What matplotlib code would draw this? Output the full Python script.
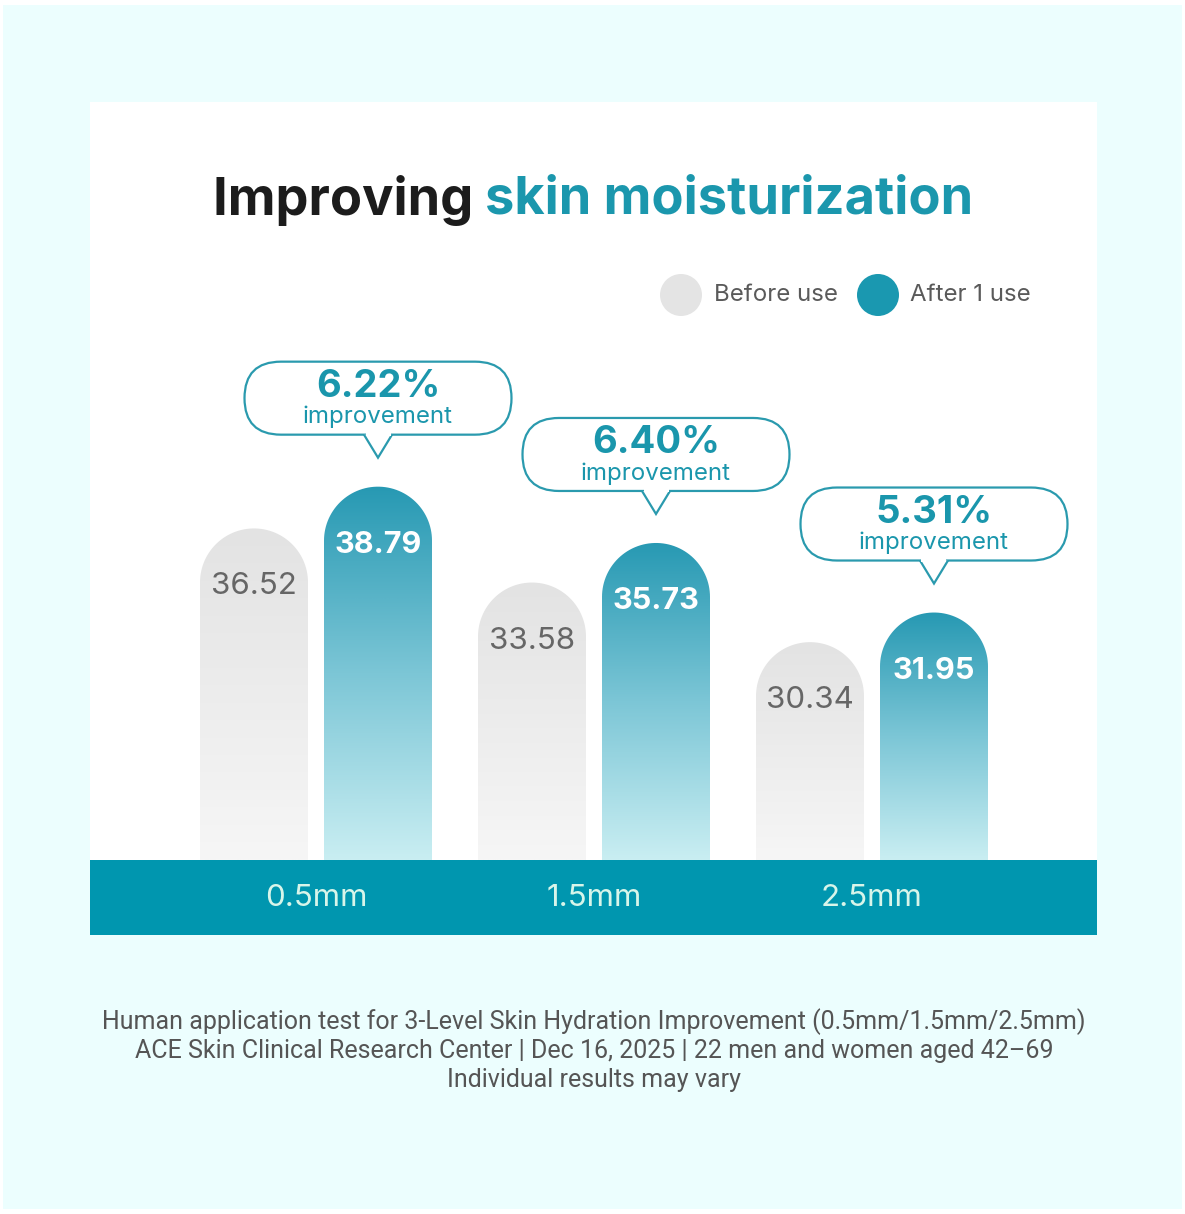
import numpy as np
import matplotlib
matplotlib.use("Agg")
import matplotlib.pyplot as plt
from matplotlib.patches import Rectangle, PathPatch, FancyBboxPatch, Circle, Polygon
from matplotlib.path import Path
from matplotlib.colors import LinearSegmentedColormap

# data
depths = ["0.5mm", "1.5mm", "2.5mm"]
before = [36.52, 33.58, 30.34]
after = [38.79, 35.73, 31.95]
improve = ["6.22%", "6.40%", "5.31%"]
series = ["Before use", "After 1 use"]
notes = ["Human application test for 3-Level Skin Hydration Improvement (0.5mm/1.5mm/2.5mm)",
         "ACE Skin Clinical Research Center | Dec 16, 2025 | 22 men and women aged 42\u201369",
         "Individual results may vary"]

W, H = 1185, 1214
TEAL = "#0096AF"
TEAL_TXT = "#1A96AC"
FONT = ["Inter", "DejaVu Sans"]
plt.rcParams['font.family'] = FONT

fig = plt.figure(figsize=(W / 100, H / 100), dpi=100, facecolor="white")

# background axes in pixel units (y down)
bg = fig.add_axes([0, 0, 1, 1])
bg.set_xlim(0, W)
bg.set_ylim(H, 0)
bg.axis("off")
bg.add_patch(Rectangle((3, 5), W - 6, H - 10, color="#ECFEFE", lw=0))
bg.add_patch(Rectangle((90, 102), 1007, 758, color="white", lw=0))
bg.add_patch(Rectangle((90, 860), 1007, 75, color=TEAL, lw=0))

# chart axes: bottom at band top, top at panel top
ax = fig.add_axes([90 / W, (H - 860) / H, 1007 / W, 758 / H])
ax.axis("off")
ymin, ymax = 18.5, 18.5 + 758 / 18.4
xlim = (-226 / 278, 781 / 278)
ax.set_xlim(*xlim)
ax.set_ylim(ymin, ymax)
px_per_y = 758 / (ymax - ymin)
px_per_x = 1007 / (xlim[1] - xlim[0])

bw = 108 / px_per_x
off = 62 / px_per_x
cm_before = LinearSegmentedColormap.from_list("b", ["#F6F6F6", "#E3E3E3"])
cm_after = LinearSegmentedColormap.from_list("a", ["#C9EEF2", "#7CC6D6", "#2799B3"])
grad = np.linspace(0, 1, 256).reshape(-1, 1)


def dome_bar(xc, v, cmap):
    rx = bw / 2
    ry = (108 / 2) / px_per_y
    t = np.linspace(np.pi, 0, 60)
    pts = [(xc - rx, ymin), (xc - rx, v - ry)]
    pts += list(zip(xc + rx * np.cos(t), v - ry + ry * np.sin(t)))
    pts += [(xc + rx, ymin), (xc - rx, ymin)]
    codes = [Path.MOVETO] + [Path.LINETO] * (len(pts) - 2) + [Path.CLOSEPOLY]
    patch = PathPatch(Path(pts, codes), fc="none", ec="none")
    ax.add_patch(patch)
    im = ax.imshow(grad, cmap=cmap, origin="lower", aspect="auto",
                   extent=[xc - rx, xc + rx, ymin, v], zorder=2)
    im.set_clip_path(patch)


x = np.arange(len(depths))
for i in range(len(depths)):
    dome_bar(x[i] - off, before[i], cm_before)
    dome_bar(x[i] + off, after[i], cm_after)
    ax.annotate(f"{before[i]:.2f}", (x[i] - off, before[i]), xytext=(0, -58),
                textcoords="offset pixels", ha="center", va="center",
                fontsize=22.5, color="#666666", zorder=3)
    ax.annotate(f"{after[i]:.2f}", (x[i] + off, after[i]), xytext=(0, -58),
                textcoords="offset pixels", ha="center", va="center",
                fontsize=22, color="white", fontweight="bold", zorder=3)
ax.set_xlim(*xlim)
ax.set_ylim(ymin, ymax)

# callout bubbles (drawn in pixel coordinates above each after-bar)
fig.canvas.draw()
for i in range(len(depths)):
    dx, dy = ax.transData.transform((x[i] + off, after[i]))
    cx, top = dx, H - dy
    bw_px, bh_px = 267, 73
    by = top - 52
    bub = FancyBboxPatch((cx - bw_px / 2, by - bh_px), bw_px, bh_px,
                         boxstyle=f"round,pad=0,rounding_size={bh_px / 2}",
                         fc="white", ec="#2A9AAE", lw=1.6, zorder=5)
    bg.add_patch(bub)
    tail = [(cx - 14, by), (cx, by + 23), (cx + 14, by)]
    bg.add_patch(Polygon(tail, closed=False, fc="white", ec="#2A9AAE", lw=1.6, zorder=6))
    bg.add_patch(Rectangle((cx - 12.5, by - 2), 25, 3, fc="white", ec="none", zorder=7))
    yc = by - bh_px / 2
    bg.text(cx, yc - 11, improve[i], ha="center", va="center", fontsize=27.5,
            fontweight="bold", color=TEAL_TXT, zorder=8)
    bg.text(cx, yc + 19, "improvement", ha="center", va="center", fontsize=17.3,
            color=TEAL_TXT, zorder=8)

# band labels
for i in range(len(depths)):
    gx = ax.transData.transform((x[i], ymin))[0]
    bg.text(gx, 898, depths[i], ha="center", va="center", fontsize=22.5, color="#D8F5EA")

# legend
bg.add_patch(Circle((681, 295), 21, color="#E4E4E4", lw=0))
bg.text(714, 295, series[0], ha="left", va="center", fontsize=17.3, color="#5A5A5A")
bg.add_patch(Circle((878, 295), 21, color="#1A98B0", lw=0))
bg.text(910, 295, series[1], ha="left", va="center", fontsize=17.3, color="#5A5A5A")

# title in two colours
t1 = bg.text(0, 200, "Improving ", ha="left", va="center", fontsize=37.7,
             fontweight="bold", color="#1C1C1C")
t2 = bg.text(0, 200, "skin moisturization", ha="left", va="center", fontsize=37.7,
             fontweight="bold", color="#1B97AD")
fig.canvas.draw()
w1 = t1.get_window_extent().width
w2 = t2.get_window_extent().width
x0 = 593 - (w1 + w2) / 2
t1.set_x(x0)
t2.set_x(x0 + w1)

# footnotes
for k, line in enumerate(notes):
    bg.text(594, 1022 + 29 * k, line, ha="center", va="center", fontsize=18,
            color="#555555", family=["Roboto", "DejaVu Sans"])

fig.savefig("out.png", dpi=100, facecolor="white")
